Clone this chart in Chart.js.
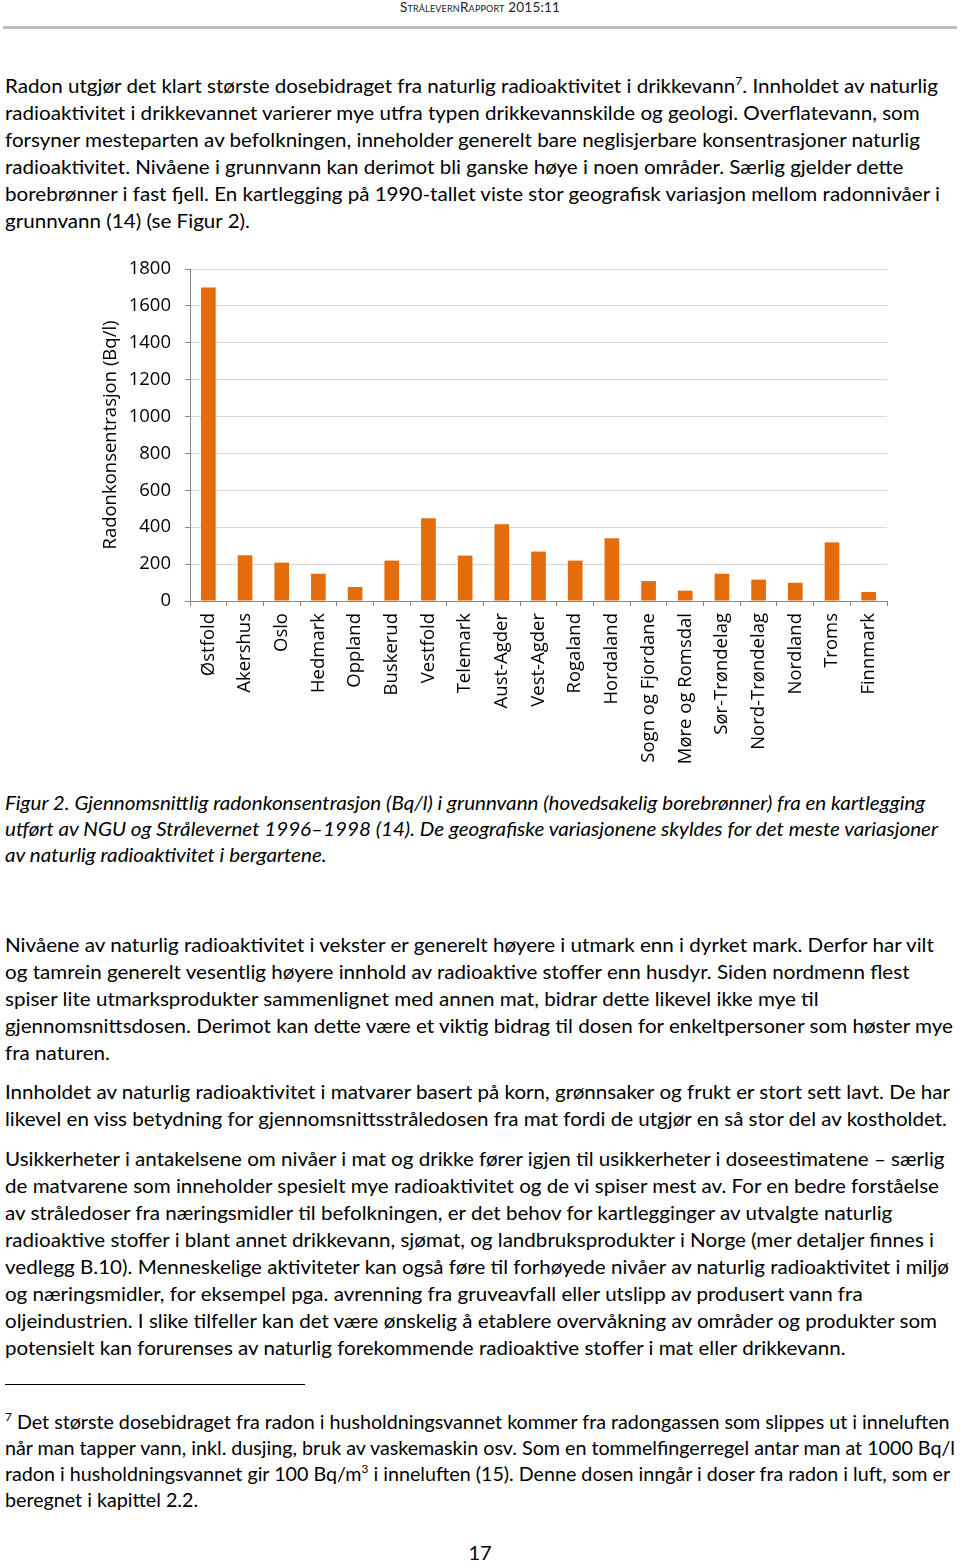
<!DOCTYPE html>
<html>
<head>
<meta charset="utf-8">
<script src="https://cdn.jsdelivr.net/npm/chart.js@4.4.1/dist/chart.umd.min.js"></script>
<style>
  html, body { margin: 0; padding: 0; background: #fff; }
  body { width: 960px; height: 1561px; position: relative; overflow: hidden; font-family: "Lato", "Carlito", sans-serif; color: #000; }
  .hdr { position: absolute; top: 0; left: 0; width: 960px; text-align: center; font-size: 13.5px; line-height: 15px; font-variant: small-caps; letter-spacing: 0.2px; color: #222; }
  .rule { position: absolute; top: 26px; left: 3px; width: 954px; height: 3px; background: #bdbdbd; }
  .blk { position: absolute; left: 5px; font-size: 20px; line-height: 27px; }
  .ln { white-space: nowrap; transform-origin: 0 50%; }
  .cap { font-style: italic; line-height: 26px; }
  .fn { line-height: 26px; font-size: 20px; }
  sup { font-size: 12px; line-height: 0; vertical-align: 8px; }
  #chartWrap { position: absolute; left: 0; top: 240px; width: 960px; height: 540px; }
  .sep { position: absolute; left: 5px; top: 1384px; width: 300px; height: 1px; background: #000; }
  .pg { position: absolute; top: 1540px; left: 0; width: 960px; text-align: center; font-size: 20px; line-height: 24px; }
</style>
</head>
<body>
<div class="hdr">StrålevernRapport 2015:11</div>
<div class="rule"></div>

<div class="blk" data-fit="935" style="top:72px">
  <div class="ln fitref">Radon utgjør det klart største dosebidraget fra naturlig radioaktivitet i drikkevann<sup>7</sup>. Innholdet av naturlig</div>
  <div class="ln">radioaktivitet i drikkevannet varierer mye utfra typen drikkevannskilde og geologi. Overflatevann, som</div>
  <div class="ln">forsyner mesteparten av befolkningen, inneholder generelt bare neglisjerbare konsentrasjoner naturlig</div>
  <div class="ln">radioaktivitet. Nivåene i grunnvann kan derimot bli ganske høye i noen områder. Særlig gjelder dette</div>
  <div class="ln">borebrønner i fast fjell. En kartlegging på 1990-tallet viste stor geografisk variasjon mellom radonnivåer i</div>
  <div class="ln">grunnvann (14) (se Figur 2).</div>
</div>

<div id="chartWrap"><canvas id="chart" width="960" height="540"></canvas></div>

<div class="blk cap" data-fit="933" style="top:789px">
  <div class="ln fitref">Figur 2. Gjennomsnittlig radonkonsentrasjon (Bq/l) i grunnvann (hovedsakelig borebrønner) fra en kartlegging</div>
  <div class="ln">utført av NGU og Strålevernet 1996–1998 (14). De geografiske variasjonene skyldes for det meste variasjoner</div>
  <div class="ln">av naturlig radioaktivitet i bergartene.</div>
</div>

<div class="blk" data-fit="935" style="top:931px">
  <div class="ln">Nivåene av naturlig radioaktivitet i vekster er generelt høyere i utmark enn i dyrket mark. Derfor har vilt</div>
  <div class="ln">og tamrein generelt vesentlig høyere innhold av radioaktive stoffer enn husdyr. Siden nordmenn flest</div>
  <div class="ln">spiser lite utmarksprodukter sammenlignet med annen mat, bidrar dette likevel ikke mye til</div>
  <div class="ln fitref" data-w="948">gjennomsnittsdosen. Derimot kan dette være et viktig bidrag til dosen for enkeltpersoner som høster mye</div>
  <div class="ln">fra naturen.</div>
</div>

<div class="blk" data-fit="945" style="top:1078px">
  <div class="ln">Innholdet av naturlig radioaktivitet i matvarer basert på korn, grønnsaker og frukt er stort sett lavt. De har</div>
  <div class="ln fitref">likevel en viss betydning for gjennomsnittsstråledosen fra mat fordi de utgjør en så stor del av kostholdet.</div>
</div>

<div class="blk" data-fit="944" style="top:1145px">
  <div class="ln">Usikkerheter i antakelsene om nivåer i mat og drikke fører igjen til usikkerheter i doseestimatene – særlig</div>
  <div class="ln">de matvarene som inneholder spesielt mye radioaktivitet og de vi spiser mest av. For en bedre forståelse</div>
  <div class="ln">av stråledoser fra næringsmidler til befolkningen, er det behov for kartlegginger av utvalgte naturlig</div>
  <div class="ln">radioaktive stoffer i blant annet drikkevann, sjømat, og landbruksprodukter i Norge (mer detaljer finnes i</div>
  <div class="ln fitref">vedlegg B.10). Menneskelige aktiviteter kan også føre til forhøyede nivåer av naturlig radioaktivitet i miljø</div>
  <div class="ln">og næringsmidler, for eksempel pga. avrenning fra gruveavfall eller utslipp av produsert vann fra</div>
  <div class="ln">oljeindustrien. I slike tilfeller kan det være ønskelig å etablere overvåkning av områder og produkter som</div>
  <div class="ln">potensielt kan forurenses av naturlig forekommende radioaktive stoffer i mat eller drikkevann.</div>
</div>

<div class="sep"></div>

<div class="blk fn" data-fit="950" style="top:1408px">
  <div class="ln"><sup>7</sup> Det største dosebidraget fra radon i husholdningsvannet kommer fra radongassen som slippes ut i inneluften</div>
  <div class="ln fitref">når man tapper vann, inkl. dusjing, bruk av vaskemaskin osv. Som en tommelfingerregel antar man at 1000 Bq/l</div>
  <div class="ln">radon i husholdningsvannet gir 100 Bq/m<sup>3</sup> i inneluften (15). Denne dosen inngår i doser fra radon i luft, som er</div>
  <div class="ln">beregnet i kapittel 2.2.</div>
</div>

<div class="pg">17</div>

<script>
// ---- Data ----
const categories = ['Østfold', 'Akershus', 'Oslo', 'Hedmark', 'Oppland', 'Buskerud', 'Vestfold', 'Telemark',
  'Aust-Agder', 'Vest-Agder', 'Rogaland', 'Hordaland', 'Sogn og Fjordane', 'Møre og Romsdal',
  'Sør-Trøndelag', 'Nord-Trøndelag', 'Nordland', 'Troms', 'Finnmark'];
const radonValues = [1700, 248, 208, 148, 76, 219, 448, 246, 416, 268, 219, 340, 108, 56, 148, 116, 99, 318, 49];
const yTickValues = [0, 200, 400, 600, 800, 1000, 1200, 1400, 1600, 1800];
const yAxisTitle = 'Radonkonsentrasjon (Bq/l)';

// ---- Text fitting (keeps line breaks as in the original) ----
function fitText() {
  document.querySelectorAll('.blk').forEach(blk => {
    const ref = blk.querySelector('.fitref');
    const target = parseFloat(ref.dataset.w || blk.dataset.fit);
    const natural = ref.getBoundingClientRect().width;
    const s = target / natural;
    blk.querySelectorAll('.ln').forEach(el => { el.style.transform = 'scaleX(' + s + ')'; });
  });
}
fitText();

// ---- Chart ----
const axisGray = '#868686';
const labelFont = { family: 'Open Sans', size: 18.5 };
new Chart(document.getElementById('chart'), {
  type: 'bar',
  data: {
    labels: categories,
    datasets: [{
      data: radonValues,
      backgroundColor: '#E46C0A',
      borderWidth: 0,
      barPercentage: 0.4,
      categoryPercentage: 1.0
    }]
  },
  options: {
    responsive: false,
    animation: false,
    devicePixelRatio: 1,
    layout: { padding: { left: 95, top: 29, right: 73, bottom: 0 } },
    plugins: { legend: { display: false }, tooltip: { enabled: false } },
    scales: {
      x: {
        grid: { offset: true, drawOnChartArea: false, drawTicks: true, tickLength: 5, tickColor: axisGray, lineWidth: 1 },
        border: { color: axisGray, width: 1 },
        ticks: { autoSkip: false, minRotation: 90, maxRotation: 90, padding: 7, color: '#000', font: labelFont },
        afterFit: s => { s.height = 179; }
      },
      y: {
        min: 0, max: 1800,
        afterBuildTicks: axis => { axis.ticks = yTickValues.map(v => ({ value: v })); },
        grid: { color: '#D9D9D9', tickColor: axisGray, tickLength: 5, lineWidth: 1 },
        border: { color: axisGray, width: 1 },
        ticks: { padding: 14, color: '#000', font: { family: 'Open Sans', size: 18.5 }, callback: v => String(v) },
        title: { display: true, text: yAxisTitle, color: '#000', font: { family: 'Open Sans', size: 18.5 }, padding: { top: 5, bottom: 0 } },
        afterFit: s => { s.width = 95; }
      }
    }
  }
});
</script>
</body>
</html>
